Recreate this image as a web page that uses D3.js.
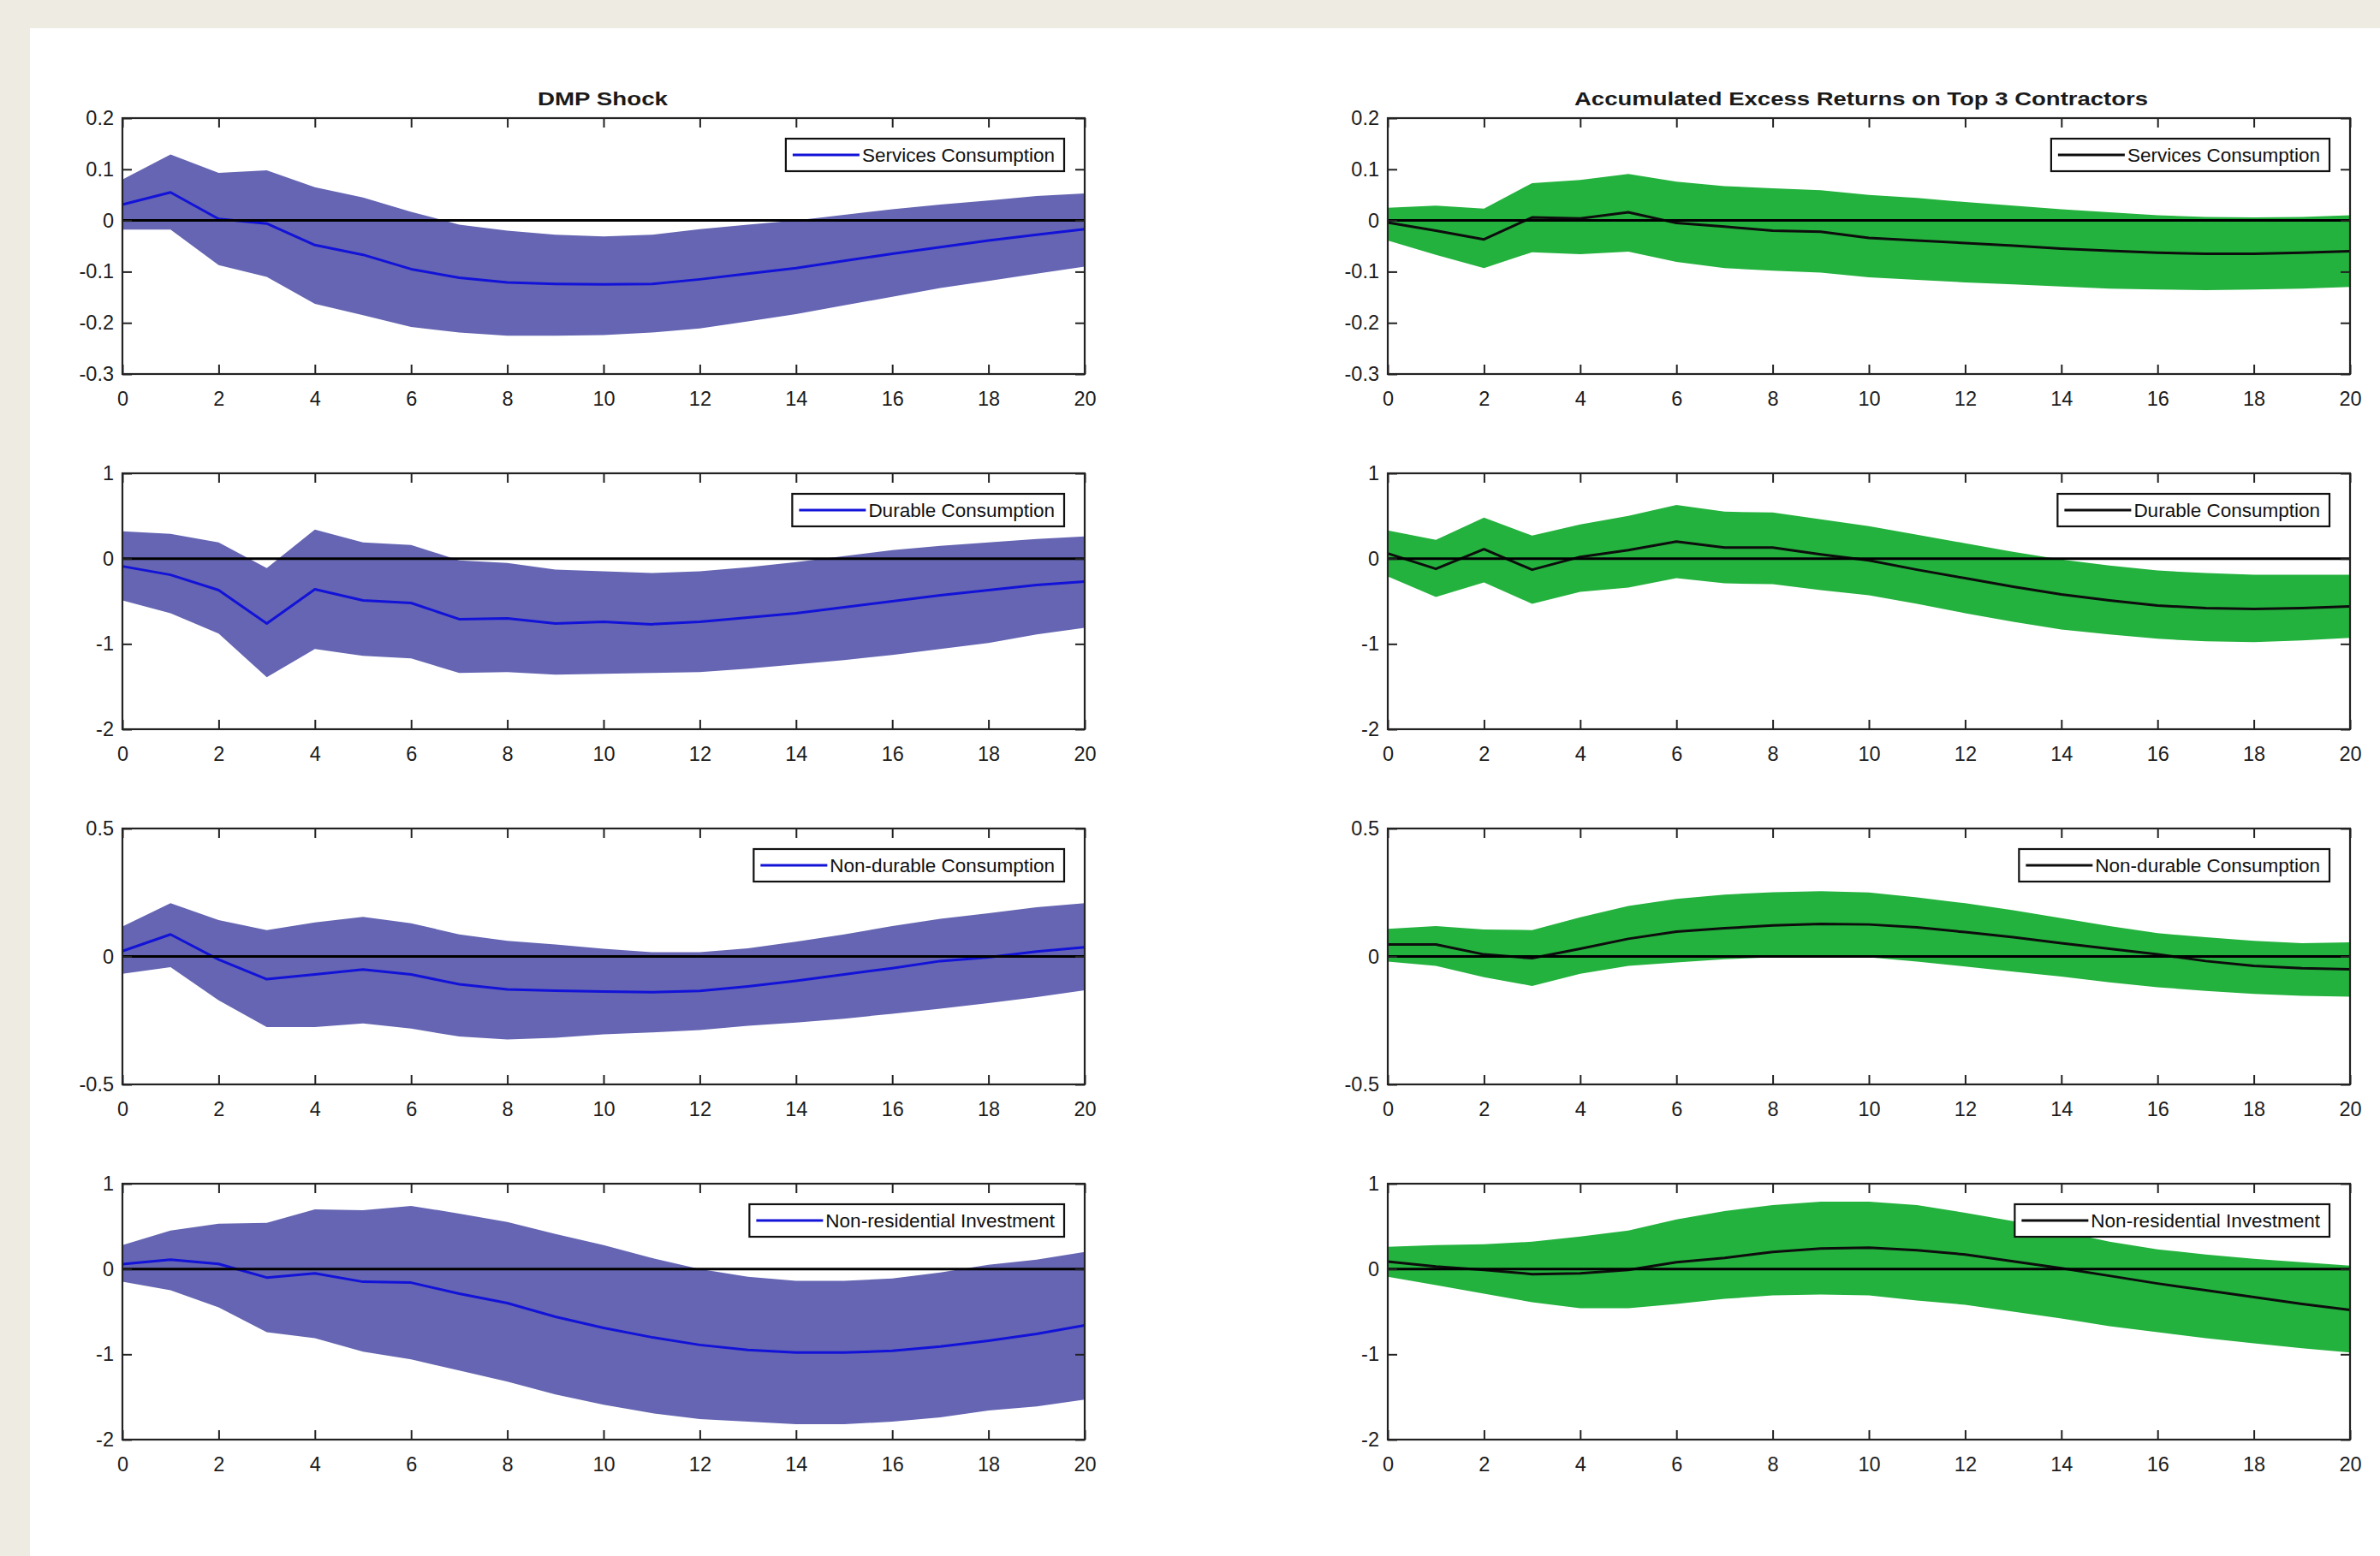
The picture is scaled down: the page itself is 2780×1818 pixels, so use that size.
<!DOCTYPE html>
<html><head><meta charset="utf-8">
<script src="https://cdn.jsdelivr.net/npm/d3@7"></script>
<style>
html,body{margin:0;padding:0;background:#edebe2;}
svg{display:block;}
text{font-family:"Liberation Sans",Arial,Helvetica,sans-serif;}
</style>
</head><body>
<svg id="chart" width="2780" height="1818"></svg>
<script>
// ---------- data ----------
const horizons = [0,1,2,3,4,5,6,7,8,9,10,11,12,13,14,15,16,17,18,19,20];
const xTicks = [0,2,4,6,8,10,12,14,16,18,20];
const xTickLabels = ["0","2","4","6","8","10","12","14","16","18","20"];

const columnTitles = ["DMP Shock", "Accumulated Excess Returns on Top 3 Contractors"];
const seriesNames = ["Services Consumption","Durable Consumption","Non-durable Consumption","Non-residential Investment"];

const yTicksServices = [-0.3,-0.2,-0.1,0,0.1,0.2];
const yLabelsServices = ["-0.3","-0.2","-0.1","0","0.1","0.2"];
const yTicksDurable = [-2,-1,0,1];
const yLabelsDurable = ["-2","-1","0","1"];
const yTicksNondurable = [-0.5,0,0.5];
const yLabelsNondurable = ["-0.5","0","0.5"];
const yTicksInvest = [-2,-1,0,1];
const yLabelsInvest = ["-2","-1","0","1"];

// DMP shock
const dmpServicesMean = [0.031,0.055,0.003,-0.006,-0.048,-0.067,-0.095,-0.112,-0.121,-0.124,-0.125,-0.124,-0.115,-0.104,-0.093,-0.079,-0.065,-0.052,-0.039,-0.028,-0.017];
const dmpServicesHi   = [0.080,0.129,0.093,0.098,0.065,0.045,0.017,-0.008,-0.020,-0.028,-0.031,-0.028,-0.017,-0.008,0.000,0.011,0.022,0.031,0.039,0.048,0.053];
const dmpServicesLo   = [-0.018,-0.018,-0.087,-0.110,-0.163,-0.185,-0.208,-0.219,-0.225,-0.225,-0.224,-0.219,-0.211,-0.197,-0.183,-0.166,-0.149,-0.132,-0.118,-0.104,-0.090];

const dmpDurableMean = [-0.09,-0.19,-0.37,-0.76,-0.36,-0.49,-0.52,-0.71,-0.70,-0.76,-0.74,-0.77,-0.74,-0.69,-0.64,-0.57,-0.50,-0.43,-0.37,-0.31,-0.27];
const dmpDurableHi   = [0.32,0.29,0.19,-0.11,0.34,0.19,0.16,-0.02,-0.05,-0.13,-0.15,-0.17,-0.15,-0.10,-0.04,0.03,0.10,0.15,0.19,0.23,0.26];
const dmpDurableLo   = [-0.49,-0.64,-0.88,-1.39,-1.06,-1.14,-1.17,-1.34,-1.33,-1.36,-1.35,-1.34,-1.33,-1.29,-1.24,-1.19,-1.13,-1.06,-0.99,-0.89,-0.81];

const dmpNondurableMean = [0.021,0.086,-0.012,-0.089,-0.070,-0.051,-0.070,-0.109,-0.129,-0.134,-0.137,-0.140,-0.135,-0.117,-0.095,-0.070,-0.046,-0.018,-0.003,0.019,0.036];
const dmpNondurableHi   = [0.117,0.208,0.142,0.103,0.133,0.155,0.130,0.086,0.061,0.047,0.030,0.017,0.017,0.032,0.058,0.086,0.119,0.147,0.169,0.192,0.208];
const dmpNondurableLo   = [-0.068,-0.042,-0.171,-0.276,-0.276,-0.262,-0.282,-0.313,-0.324,-0.318,-0.304,-0.297,-0.288,-0.271,-0.258,-0.243,-0.224,-0.204,-0.182,-0.159,-0.132];

const dmpInvestMean = [0.057,0.11,0.06,-0.10,-0.05,-0.15,-0.16,-0.29,-0.40,-0.56,-0.69,-0.80,-0.89,-0.95,-0.98,-0.98,-0.96,-0.91,-0.84,-0.76,-0.66];
const dmpInvestHi   = [0.28,0.45,0.53,0.54,0.70,0.69,0.74,0.65,0.55,0.41,0.28,0.13,0.00,-0.09,-0.14,-0.14,-0.11,-0.04,0.05,0.11,0.20];
const dmpInvestLo   = [-0.15,-0.25,-0.45,-0.74,-0.81,-0.97,-1.06,-1.19,-1.32,-1.47,-1.59,-1.69,-1.76,-1.79,-1.82,-1.82,-1.79,-1.74,-1.66,-1.61,-1.53];

// Accumulated excess returns
const aerServicesMean = [-0.004,-0.020,-0.037,0.006,0.004,0.016,-0.005,-0.012,-0.020,-0.022,-0.034,-0.039,-0.044,-0.049,-0.055,-0.059,-0.063,-0.065,-0.065,-0.063,-0.060];
const aerServicesHi   = [0.025,0.029,0.023,0.073,0.079,0.091,0.076,0.067,0.063,0.059,0.050,0.044,0.036,0.029,0.022,0.016,0.010,0.007,0.006,0.007,0.010];
const aerServicesLo   = [-0.039,-0.067,-0.093,-0.062,-0.066,-0.061,-0.081,-0.093,-0.098,-0.102,-0.111,-0.116,-0.121,-0.125,-0.129,-0.133,-0.135,-0.136,-0.135,-0.133,-0.130];

const aerDurableMean = [0.06,-0.12,0.11,-0.13,0.02,0.10,0.20,0.13,0.13,0.05,-0.02,-0.13,-0.23,-0.33,-0.42,-0.49,-0.55,-0.58,-0.59,-0.58,-0.56];
const aerDurableHi   = [0.33,0.22,0.48,0.27,0.40,0.50,0.63,0.55,0.54,0.46,0.38,0.28,0.18,0.08,-0.01,-0.08,-0.14,-0.17,-0.19,-0.19,-0.19];
const aerDurableLo   = [-0.21,-0.45,-0.28,-0.53,-0.39,-0.34,-0.23,-0.29,-0.30,-0.37,-0.43,-0.53,-0.64,-0.74,-0.83,-0.89,-0.94,-0.97,-0.98,-0.96,-0.93];

const aerNondurableMean = [0.047,0.047,0.008,-0.007,0.030,0.069,0.097,0.110,0.121,0.127,0.125,0.114,0.095,0.075,0.052,0.030,0.008,-0.018,-0.037,-0.046,-0.050];
const aerNondurableHi   = [0.108,0.119,0.105,0.103,0.153,0.197,0.225,0.242,0.251,0.255,0.250,0.231,0.208,0.181,0.150,0.119,0.091,0.075,0.061,0.052,0.055];
const aerNondurableLo   = [-0.020,-0.037,-0.081,-0.115,-0.068,-0.037,-0.023,-0.011,-0.003,-0.001,-0.003,-0.020,-0.039,-0.059,-0.079,-0.101,-0.120,-0.135,-0.146,-0.154,-0.157];

const aerInvestMean = [0.087,0.03,-0.01,-0.06,-0.05,-0.01,0.08,0.13,0.20,0.24,0.25,0.22,0.17,0.09,0.01,-0.08,-0.17,-0.25,-0.33,-0.41,-0.48];
const aerInvestHi   = [0.26,0.28,0.29,0.32,0.38,0.45,0.58,0.68,0.75,0.79,0.79,0.75,0.66,0.56,0.44,0.32,0.23,0.17,0.12,0.08,0.04];
const aerInvestLo   = [-0.09,-0.19,-0.29,-0.39,-0.46,-0.46,-0.41,-0.35,-0.31,-0.30,-0.31,-0.37,-0.42,-0.50,-0.58,-0.67,-0.74,-0.81,-0.87,-0.93,-0.98];

// ---------- layout & style ----------
const colLeft = [143, 1621];
const panelW = 1124;
const rowTop = [138, 553, 968, 1383];
const panelH = 299;
const bandColors = ["#6565b3", "#24b23e"];
const lineColors = ["#1212d8", "#0d0d0d"];
const tickFont = 23.5;

const rows = [
  {name: seriesNames[0], domain:[-0.3,0.2], ticks:yTicksServices, labels:yLabelsServices,
   data:[[dmpServicesMean,dmpServicesLo,dmpServicesHi],[aerServicesMean,aerServicesLo,aerServicesHi]]},
  {name: seriesNames[1], domain:[-2,1], ticks:yTicksDurable, labels:yLabelsDurable,
   data:[[dmpDurableMean,dmpDurableLo,dmpDurableHi],[aerDurableMean,aerDurableLo,aerDurableHi]]},
  {name: seriesNames[2], domain:[-0.5,0.5], ticks:yTicksNondurable, labels:yLabelsNondurable,
   data:[[dmpNondurableMean,dmpNondurableLo,dmpNondurableHi],[aerNondurableMean,aerNondurableLo,aerNondurableHi]]},
  {name: seriesNames[3], domain:[-2,1], ticks:yTicksInvest, labels:yLabelsInvest,
   data:[[dmpInvestMean,dmpInvestLo,dmpInvestHi],[aerInvestMean,aerInvestLo,aerInvestHi]]}
];

const svg = d3.select("#chart");
svg.append("rect").attr("x",35).attr("y",33).attr("width",2780-35).attr("height",1818-33).attr("fill","#ffffff");

// column titles
const titleCenters = [704, 2174];
const titleWidths = [152, 670];
columnTitles.forEach((t,c)=>{
  svg.append("text")
    .attr("x", titleCenters[c]).attr("y", 123)
    .attr("text-anchor","middle")
    .attr("font-size", 21.5).attr("font-weight","bold").attr("fill","#1a1a1a")
    .attr("textLength", titleWidths[c]).attr("lengthAdjust","spacingAndGlyphs")
    .text(t);
});

rows.forEach((row, r) => {
  [0,1].forEach(c => {
    const left = colLeft[c], top = rowTop[r];
    const x = d3.scaleLinear().domain([0,20]).range([left, left+panelW]);
    const y = d3.scaleLinear().domain(row.domain).range([top+panelH, top]);
    const [mean, lo, hi] = row.data[c];
    const g = svg.append("g");
    const pts = horizons.map((h,i)=>({h, m:mean[i], lo:lo[i], hi:hi[i]}));

    g.append("path").datum(pts)
      .attr("d", d3.area().x(d=>x(d.h)).y0(d=>y(d.lo)).y1(d=>y(d.hi)))
      .attr("fill", bandColors[c]).attr("stroke","none");

    g.append("path").datum(pts)
      .attr("d", d3.line().x(d=>x(d.h)).y(d=>y(d.m)))
      .attr("fill","none").attr("stroke", lineColors[c]).attr("stroke-width", 3)
      .attr("stroke-linejoin","round");

    // zero line
    g.append("line")
      .attr("x1", x(0)).attr("x2", x(20)).attr("y1", y(0)).attr("y2", y(0))
      .attr("stroke","#000").attr("stroke-width",3);

    // axes
    const styleAxis = sel => {
      sel.select(".domain").remove();
      sel.selectAll(".tick line").attr("stroke","#222").attr("stroke-width",2);
      sel.selectAll(".tick text").attr("fill","#1c1c1c").attr("font-size",tickFont)
         .attr("font-family",'"Liberation Sans",Arial,sans-serif');
    };
    g.append("g").attr("transform",`translate(0,${top+panelH})`)
      .call(d3.axisBottom(x).tickValues(xTicks).tickFormat((d,i)=>xTickLabels[i]).tickSizeInner(-11).tickSizeOuter(0).tickPadding(20))
      .call(styleAxis);
    g.append("g").attr("transform",`translate(0,${top})`)
      .call(d3.axisTop(x).tickValues(xTicks).tickFormat("").tickSizeInner(-11).tickSizeOuter(0))
      .call(styleAxis);
    g.append("g").attr("transform",`translate(${left},0)`)
      .call(d3.axisLeft(y).tickValues(row.ticks).tickFormat((d,i)=>row.labels[i]).tickSizeInner(-11).tickSizeOuter(0).tickPadding(10))
      .call(styleAxis);
    g.append("g").attr("transform",`translate(${left+panelW},0)`)
      .call(d3.axisRight(y).tickValues(row.ticks).tickFormat("").tickSizeInner(-11).tickSizeOuter(0))
      .call(styleAxis);

    // frame
    g.append("rect").attr("x",left).attr("y",top).attr("width",panelW).attr("height",panelH)
      .attr("fill","none").attr("stroke","#222").attr("stroke-width",2.2);

    // legend
    const lg = g.append("g");
    const txt = lg.append("text").attr("font-size",22.5).attr("fill","#111").text(row.name);
    const tw = txt.node().getComputedTextLength();
    const boxW = 8 + 78 + 3 + tw + 11, boxH = 38;
    const bx = left + panelW - 24 - boxW, by = top + 24;
    lg.insert("rect","text").attr("x",bx).attr("y",by).attr("width",boxW).attr("height",boxH)
      .attr("fill","#fff").attr("stroke","#111").attr("stroke-width",2.2);
    lg.append("line").attr("x1",bx+8).attr("x2",bx+86).attr("y1",by+boxH/2).attr("y2",by+boxH/2)
      .attr("stroke", lineColors[c]).attr("stroke-width",3);
    txt.attr("x", bx+89).attr("y", by+boxH/2).attr("dy","0.36em");
  });
});
</script>
</body></html>
